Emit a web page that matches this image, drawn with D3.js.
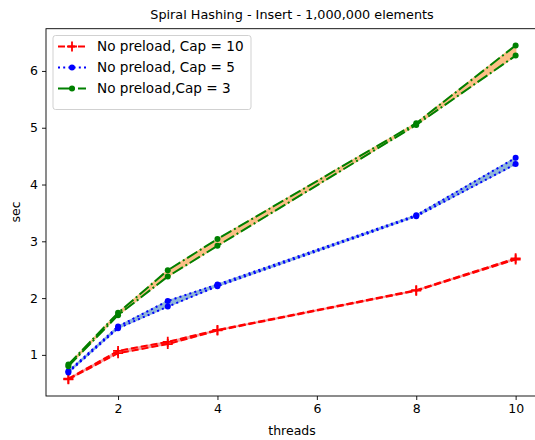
<!DOCTYPE html>
<html>
<head>
<meta charset="utf-8">
<script src="https://cdn.jsdelivr.net/npm/d3@7"></script>
<style>
  body { margin: 0; background: #fff; }
  text { font-family: "DejaVu Sans", sans-serif; fill: #000; }
</style>
</head>
<body>
<div id="chart"></div>
<script>
// threads on the x axis
let threads = [1, 2, 3, 4, 8, 10]

// two runs per configuration (lower / upper line of each band)
let cap10a = [0.57, 1.03, 1.19, 1.43, 2.13, 2.68]
let cap10b = [0.58, 1.07, 1.23, 1.44, 2.14, 2.70]
let cap5a = [0.69, 1.47, 1.85, 2.21, 3.44, 4.36]
let cap5b = [0.71, 1.50, 1.95, 2.24, 3.46, 4.47]
let cap3a = [0.80, 1.70, 2.38, 2.92, 5.05, 6.27]
let cap3b = [0.83, 1.74, 2.49, 3.04, 5.08, 6.45]

let xTicks = [2, 4, 6, 8, 10]
let yTicks = [1, 2, 3, 4, 5, 6]

let series = [
  { label: "No preload, Cap = 10", a: cap10a, b: cap10b, color: "red", fill: "#f4a3a3", dash: "7,3", marker: "plus" },
  { label: "No preload, Cap = 5", a: cap5a, b: cap5b, color: "blue", fill: "#8fb6d9", dash: "2,3.2", marker: "dot" },
  { label: "No preload,Cap = 3", a: cap3a, b: cap3b, color: "green", fill: "#fbbf86", dash: "12,3,2,3", marker: "dot" }
]

let width = 535,
  height = 440

let x = d3.scaleLinear().domain([0.55, 10.45]).range([46, 538])
let y = d3.scaleLinear().domain([0.276, 6.744]).range([396, 28.7])

let svg = d3.select("#chart").append("svg")
  .attr("width", width)
  .attr("height", height)

let line = d3.line()
  .x(function (d, i) { return x(threads[i]) })
  .y(function (d) { return y(d) })

let area = d3.area()
  .x(function (d) { return x(d.t) })
  .y0(function (d) { return y(d.lo) })
  .y1(function (d) { return y(d.hi) })

function drawMarker(g, kind, cx, cy, color) {
  if (kind === "plus") {
    g.append("path")
      .attr("d", "M" + (cx - 5) + "," + cy + "H" + (cx + 5) + "M" + cx + "," + (cy - 5) + "V" + (cy + 5))
      .attr("stroke", color).attr("stroke-width", 1.8).attr("fill", "none")
  } else {
    g.append("circle").attr("cx", cx).attr("cy", cy).attr("r", 3).attr("fill", color)
  }
}

let plot = svg.append("g")

series.forEach(function (s) {
  let band = threads.map(function (t, i) { return { t: t, lo: s.a[i], hi: s.b[i] } })
  plot.append("path")
    .attr("d", area(band))
    .attr("fill", s.fill)
    .attr("stroke", s.fill)
    .attr("stroke-width", 1.5)
  ;[s.a, s.b].forEach(function (vals) {
    plot.append("path")
      .attr("d", line(vals))
      .attr("fill", "none")
      .attr("stroke", s.color)
      .attr("stroke-width", 2)
      .attr("stroke-dasharray", s.dash)
    vals.forEach(function (v, i) { drawMarker(plot, s.marker, x(threads[i]), y(v), s.color) })
  })
})

// axes
let xAxis = svg.append("g")
  .attr("transform", "translate(0," + 396 + ")")
  .call(d3.axisBottom(x).tickValues(xTicks).tickFormat(d3.format("d")).tickSize(4).tickPadding(4))
let yAxis = svg.append("g")
  .attr("transform", "translate(" + 46 + ",0)")
  .call(d3.axisLeft(y).tickValues(yTicks).tickFormat(d3.format("d")).tickSize(4).tickPadding(4))

;[xAxis, yAxis].forEach(function (a) {
  a.selectAll(".domain").remove()
  a.selectAll("line").attr("stroke", "#000").attr("stroke-width", 0.9)
  a.selectAll("text").style("font-size", "12.5px").style("font-family", "DejaVu Sans").attr("fill", "#000")
})

// frame
svg.append("rect")
  .attr("x", 46).attr("y", 28.7)
  .attr("width", 538 - 46).attr("height", 396 - 28.7)
  .attr("fill", "none").attr("stroke", "#000").attr("stroke-width", 0.9)

// labels
svg.append("text").attr("x", 292).attr("y", 19).attr("text-anchor", "middle")
  .style("font-size", "12.8px").text("Spiral Hashing - Insert - 1,000,000 elements")
svg.append("text").attr("x", 292).attr("y", 435).attr("text-anchor", "middle")
  .style("font-size", "12.5px").text("threads")
svg.append("text").attr("transform", "translate(20," + 212 + ") rotate(-90)").attr("text-anchor", "middle")
  .style("font-size", "12.5px").text("sec")

// legend
let legend = svg.append("g")
legend.append("rect")
  .attr("x", 53).attr("y", 35.5).attr("width", 198).attr("height", 74).attr("rx", 2.5)
  .attr("fill", "#fff").attr("fill-opacity", 0.8).attr("stroke", "#ccc").attr("stroke-width", 0.9)
series.forEach(function (s, i) {
  let ly = 46.5 + i * 21
  legend.append("line")
    .attr("x1", 58).attr("x2", 86).attr("y1", ly).attr("y2", ly)
    .attr("stroke", s.color).attr("stroke-width", 2).attr("stroke-dasharray", s.dash)
  drawMarker(legend, s.marker, 72, ly, s.color)
  legend.append("text").attr("x", 97).attr("y", ly + 4.6)
    .style("font-size", "13.6px").text(s.label)
})
</script>
</body>
</html>
